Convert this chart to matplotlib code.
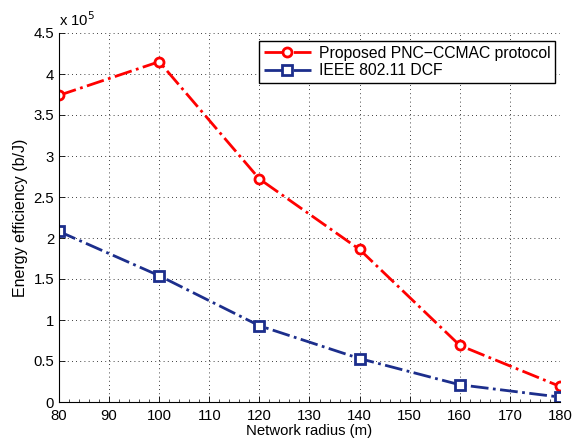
import numpy as np
import matplotlib
matplotlib.use('Agg')
import matplotlib.pyplot as plt
from matplotlib.ticker import MultipleLocator

plt.rcParams['font.family'] = ['Liberation Sans', 'DejaVu Sans']
plt.rcParams['font.size'] = 10.7

radius = [80, 100, 120, 140, 160, 180]
proposed = [3.74, 4.15, 2.72, 1.86, 0.69, 0.19]
ieee_dcf = [2.08, 1.54, 0.93, 0.53, 0.21, 0.06]

x_ticks = [80, 90, 100, 110, 120, 130, 140, 150, 160, 170, 180]
y_ticks = [0, 0.5, 1, 1.5, 2, 2.5, 3, 3.5, 4, 4.5]
y_labels = ['0', '0.5', '1', '1.5', '2', '2.5', '3', '3.5', '4', '4.5']

RED = '#ff0000'
BLUE = '#1c2e8c'

fig = plt.figure(figsize=(5.76, 4.43), dpi=100)
ax = fig.add_axes([59 / 576, 1 - 402 / 443, 501 / 576, 369 / 443])

ax.plot(radius, proposed, color=RED, linestyle='-.', linewidth=2,
        marker='o', markersize=6.5, markerfacecolor='white',
        markeredgecolor=RED, markeredgewidth=2,
        label='Proposed PNC\u2212CCMAC protocol')
ax.plot(radius, ieee_dcf, color=BLUE, linestyle='-.', linewidth=2,
        marker='s', markersize=6.5, markerfacecolor='white',
        markeredgecolor=BLUE, markeredgewidth=2,
        label='IEEE 802.11 DCF')

ax.set_xlim(80, 180)
ax.set_ylim(0, 4.5)
ax.set_xticks(x_ticks)
ax.set_yticks(y_ticks)
ax.set_yticklabels(y_labels)
ax.xaxis.set_minor_locator(MultipleLocator(2))
ax.grid(True, which='major', color='black', linestyle=(0, (1, 4)), linewidth=0.6)
ax.tick_params(which='major', direction='in', length=4, width=0.6)
ax.tick_params(axis='x', which='major', pad=5)
ax.tick_params(which='minor', direction='in', length=2, width=0.5)
ax.spines['top'].set_visible(False)
ax.spines['right'].set_visible(False)
for spine in ['left', 'bottom']:
    ax.spines[spine].set_linewidth(0.8)

ax.set_xlabel('Network radius (m)', labelpad=1)
ax.set_ylabel('Energy efficiency (b/J)', fontsize=11.5, labelpad=4)
ax.text(0, 1.01, r'x 10$^5$', transform=ax.transAxes, ha='left', va='bottom')

leg = ax.legend(loc='upper right', fancybox=False, edgecolor='black',
                framealpha=1, borderpad=0.3, labelspacing=0.15,
                handlelength=3.0, handletextpad=0.5, fontsize=11.3,
                borderaxespad=0, bbox_to_anchor=(0.99, 0.978))
leg.get_frame().set_linewidth(1.0)

fig.savefig('out.png', dpi=100)
